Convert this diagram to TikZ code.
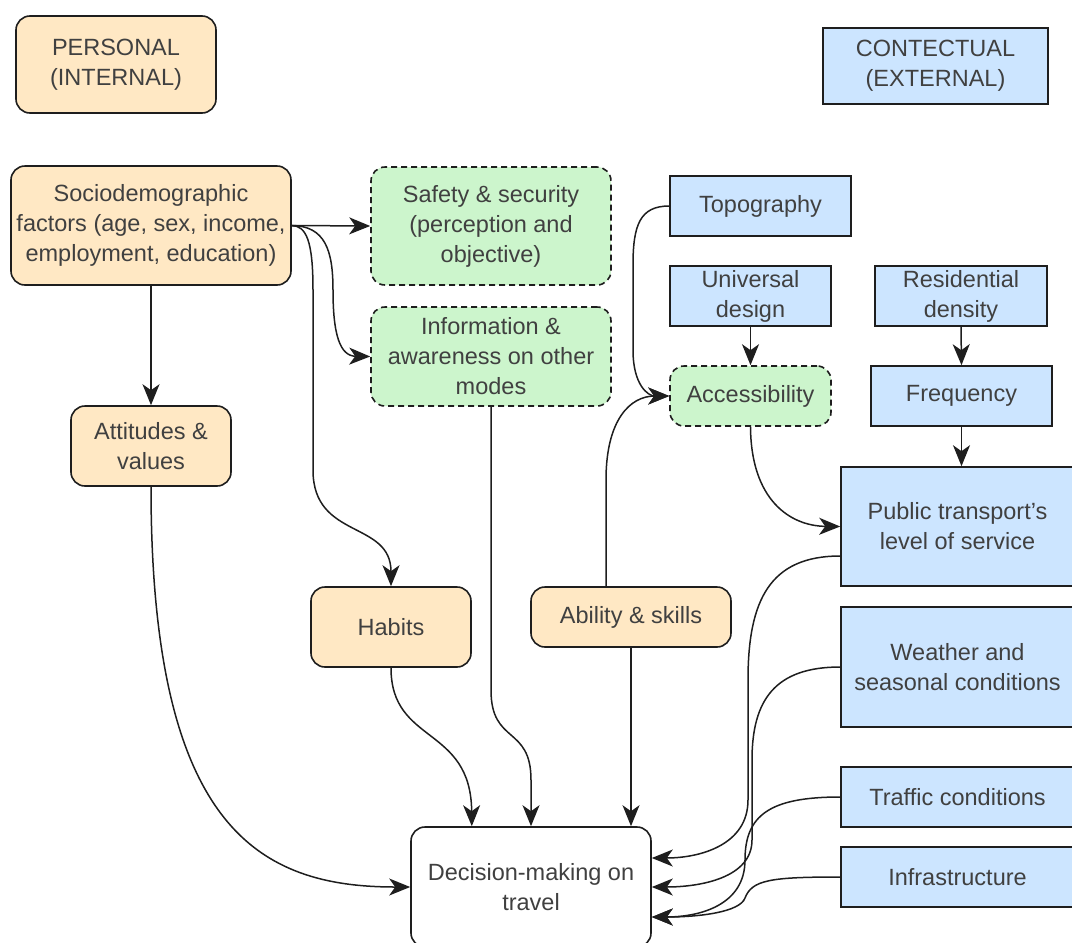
\documentclass[tikz,border=0pt]{standalone}
\usepackage{fontspec}
\setmainfont{Liberation Sans}
\usetikzlibrary{arrows.meta,calc}

\begin{document}
\begin{tikzpicture}[x=1pt,y=-1pt]
\definecolor{persfill}{HTML}{FFE8C4}
\definecolor{medfill}{HTML}{CCF5CC}
\definecolor{extfill}{HTML}{CCE5FF}
\definecolor{ink}{HTML}{1E1E1E}
\tikzset{
    box/.style={draw=ink,line width=1.6pt,text=ink!85,align=center,inner sep=2pt,
        font=\fontsize{23.5}{30}\selectfont},
    persbox/.style={box,fill=persfill,rounded corners=14pt},
    medbox/.style={box,fill=medfill,rounded corners=14pt,dash pattern=on 6pt off 4pt},
    extbox/.style={box,fill=extfill},
    link/.style={draw=ink,line width=1.5pt,-{Stealth[length=21pt,width=17pt,inset=6pt]}}
}
\useasboundingbox (0,0) rectangle (1072,943);

% legend
\node[persbox,minimum width=200pt,minimum height=97pt] (perslegend) at (116,64.5) {PERSONAL\\(INTERNAL)};
\node[extbox,minimum width=225pt,minimum height=76pt] (extlegend) at (935.5,66) {CONTECTUAL\\(EXTERNAL)};

% personal factors
\node[persbox,minimum width=280pt,minimum height=119pt] (socio) at (151,225.5) {Sociodemographic\\factors (age, sex, income,\\employment, education)};
\node[persbox,minimum width=160pt,minimum height=80pt] (att) at (151,446) {Attitudes \&\\values};
\node[persbox,minimum width=160pt,minimum height=80pt] (habits) at (391,627) {Habits};
\node[persbox,minimum width=200pt,minimum height=60pt] (ability) at (631,617) {Ability \& skills};

% mediating factors
\node[medbox,minimum width=240pt,minimum height=118pt] (safety) at (491,226) {Safety \& security\\(perception and\\objective)};
\node[medbox,minimum width=240pt,minimum height=99pt] (info) at (491,356.5) {Information \&\\awareness on other\\modes};
\node[medbox,minimum width=161pt,minimum height=60pt] (access) at (750.5,396) {Accessibility};

% contextual factors
\node[extbox,minimum width=181pt,minimum height=60pt] (topo) at (760.5,206) {Topography};
\node[extbox,minimum width=161pt,minimum height=60pt] (univ) at (750.5,296) {Universal\\design};
\node[extbox,minimum width=172pt,minimum height=60pt] (resid) at (961,296) {Residential\\density};
\node[extbox,minimum width=181pt,minimum height=60pt] (freq) at (961.5,396) {Frequency};
\node[extbox,minimum width=233pt,minimum height=119pt] (pts) at (957.5,526.5) {Public transport's\\level of service};
\node[extbox,minimum width=233pt,minimum height=120pt] (weather) at (957.5,667) {Weather and\\seasonal conditions};
\node[extbox,minimum width=233pt,minimum height=60pt] (traffic) at (957.5,797) {Traffic conditions};
\node[extbox,minimum width=233pt,minimum height=60pt] (infra) at (957.5,877) {Infrastructure};

% outcome
\node[box,rounded corners=14pt,fill=white,minimum width=240pt,minimum height=120pt] (decide) at (531,887) {Decision-making on\\travel};

% straight links
\foreach \a/\b in {socio.east/safety.west, socio.south/att.north, univ.south/access.north, resid.south/freq.north}
    \draw[link] (\a) -- (\b);
\draw[link] (freq.south) -- (freq.south |- pts.north);
\draw[link] (ability.south) -- (ability.south |- decide.north);

% curved links from the sociodemographic factors
\draw[link] (socio.east) .. controls (325,226) and (333,250) .. (333,290) .. controls (333,335) and (340,356) .. (info.west);
\draw[link] (socio.east) .. controls (306,226) and (313,240) .. (313,290) -- (313,470) .. controls (313,540) and (391,520) .. (habits.north);

% links into accessibility
\draw[link] (topo.west) .. controls (640,206) and (633,225) .. (633,265) -- (633,350) .. controls (633,385) and (648,396) .. (access.west);
\draw[link] ($(ability.north)+(-25,0)$) -- (606,480) .. controls (606,420) and (630,396) .. (access.west);
\draw[link] (access.south) .. controls (751,500) and (790,526) .. (pts.west);

% links into the decision
\draw[link] (att.south) .. controls (151,830) and (260,887) .. (decide.west);
\draw[link] (info.south) -- (491,690) .. controls (491,745) and (531,725) .. (531,780) -- (decide.north);
\draw[link] (habits.south) .. controls (391,745) and (471,725) .. (habits.east |- decide.north);
\draw[link] ($(pts.west)+(0,29.5)$) .. controls (770,556) and (748,600) .. (748,680) -- (748,800) .. controls (748,845) and (700,858) .. ($(decide.east)+(0,-29)$);
\draw[link] (weather.west) .. controls (775,667) and (752,700) .. (752,760) -- (752,840) .. controls (752,878) and (700,887) .. (decide.east);
\draw[link] (traffic.west) .. controls (770,797) and (745,815) .. (745,860) .. controls (745,905) and (700,917) .. ($(decide.east)+(0,30)$);
\draw[link] (infra.west) .. controls (770,877) and (752,880) .. (745,898) .. controls (740,912) and (700,917) .. ($(decide.east)+(0,30)$);
\end{tikzpicture}
\end{document}
